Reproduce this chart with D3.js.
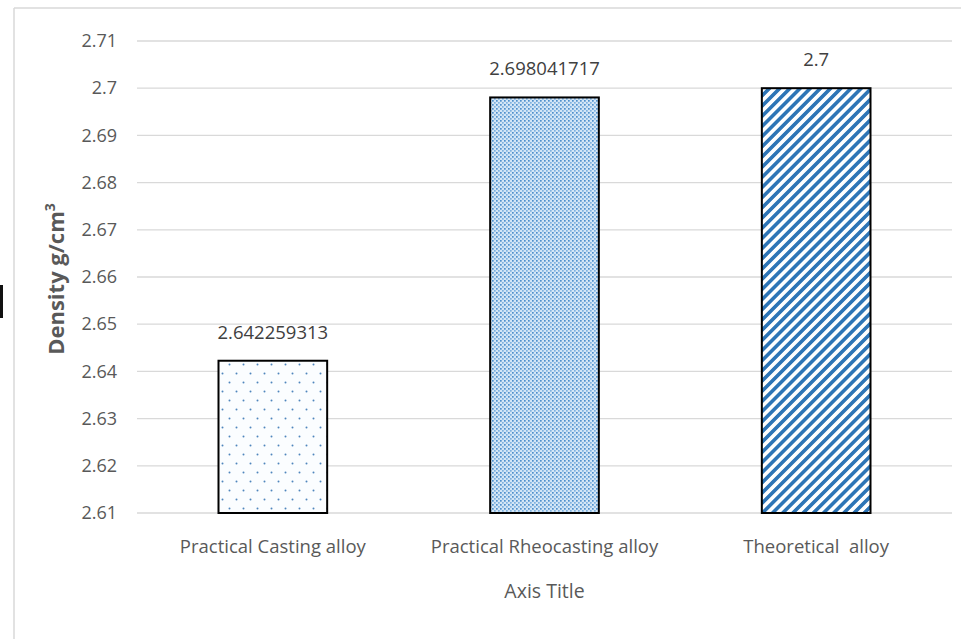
<!DOCTYPE html>
<html>
<head>
<meta charset="utf-8">
<script src="https://cdn.jsdelivr.net/npm/d3@7"></script>
<style>
  body { margin: 0; background: #fff; }
  svg { display: block; font-family: "Open Sans", sans-serif; }
  text { white-space: pre; }
</style>
</head>
<body>
<svg id="chart" width="961" height="639"></svg>
<script>
const categories = ["Practical Casting alloy", "Practical Rheocasting alloy", "Theoretical  alloy"];
const values = [2.642259313, 2.698041717, 2.7];
const valueLabels = ["2.642259313", "2.698041717", "2.7"];
const yTicks = [2.61, 2.62, 2.63, 2.64, 2.65, 2.66, 2.67, 2.68, 2.69, 2.7, 2.71];
const patterns = ["dotsSparse", "dotsDense", "stripes"];

const svg = d3.select("#chart");
const W = 961, H = 639;
const m = { left: 137, right: 9, top: 41, bottom: 126 };
const FONT = '"Open Sans", sans-serif';

// chart frame
svg.append("line").attr("x1", 14).attr("x2", 14).attr("y1", 8).attr("y2", H).attr("stroke", "#d9d9d9").attr("stroke-width", 1.5);
svg.append("line").attr("x1", 14).attr("x2", W).attr("y1", 8).attr("y2", 8).attr("stroke", "#d9d9d9").attr("stroke-width", 1.5);
svg.append("rect").attr("x", 0).attr("y", 285).attr("width", 3).attr("height", 33).attr("fill", "#111");

const defs = svg.append("defs");
// sparse dots
const p1 = defs.append("pattern").attr("id", "dotsSparse").attr("patternUnits", "userSpaceOnUse")
  .attr("width", 14).attr("height", 18).attr("x", 2).attr("y", 0);
p1.append("rect").attr("width", 14).attr("height", 18).attr("fill", "#fbfdff");
p1.append("circle").attr("cx", 3.5).attr("cy", 4.5).attr("r", 1).attr("fill", "#4f86bd");
p1.append("circle").attr("cx", 10.5).attr("cy", 13.5).attr("r", 1).attr("fill", "#4f86bd");
// dense dots
const p2 = defs.append("pattern").attr("id", "dotsDense").attr("patternUnits", "userSpaceOnUse")
  .attr("width", 4).attr("height", 4);
p2.append("rect").attr("width", 4).attr("height", 4).attr("fill", "#d4e6f6");
p2.append("rect").attr("x", 0).attr("y", 0).attr("width", 1.7).attr("height", 1.7).attr("fill", "#4f90cc");
p2.append("rect").attr("x", 2).attr("y", 2).attr("width", 1.7).attr("height", 1.7).attr("fill", "#7fb1df");
// diagonal stripes
const p3 = defs.append("pattern").attr("id", "stripes").attr("patternUnits", "userSpaceOnUse")
  .attr("width", 7.2).attr("height", 7.2).attr("patternTransform", "rotate(45)");
p3.append("rect").attr("width", 7.2).attr("height", 7.2).attr("fill", "#ffffff");
p3.append("rect").attr("x", 0).attr("y", 0).attr("width", 3.6).attr("height", 7.2).attr("fill", "#2e75b6");

const x = d3.scaleBand().domain(categories).range([m.left, W - m.right]).paddingInner(0.6).paddingOuter(0.3);
const y = d3.scaleLinear().domain([2.61, 2.71]).range([H - m.bottom, m.top]);

// gridlines
svg.append("g").selectAll("line").data(yTicks).join("line")
  .attr("x1", m.left).attr("x2", W - m.right)
  .attr("y1", d => y(d)).attr("y2", d => y(d))
  .attr("stroke", "#d9d9d9").attr("stroke-width", 1.3);

// y axis
const yAxis = svg.append("g").attr("transform", `translate(${m.left - 14},0)`)
  .call(d3.axisLeft(y).tickValues(yTicks).tickSize(0).tickPadding(6).tickFormat(d3.format("")));
yAxis.select(".domain").remove();
yAxis.selectAll("text").attr("font-size", 18).attr("fill", "#595959").style("font-family", FONT);

// bars
svg.append("g").selectAll("rect").data(values).join("rect")
  .attr("x", (d, i) => x(categories[i]))
  .attr("width", x.bandwidth())
  .attr("y", d => y(d))
  .attr("height", d => y(2.61) - y(d))
  .attr("fill", (d, i) => `url(#${patterns[i]})`)
  .attr("stroke", "#000").attr("stroke-width", 2);

// data labels
svg.append("g").selectAll("text").data(values).join("text")
  .attr("x", (d, i) => x(categories[i]) + x.bandwidth() / 2)
  .attr("y", d => y(d) - 22)
  .attr("text-anchor", "middle").attr("font-size", 18.5).attr("fill", "#404040")
  .text((d, i) => valueLabels[i]);

// x axis
const xAxis = svg.append("g").attr("transform", `translate(0,${H - m.bottom})`)
  .call(d3.axisBottom(x).tickSize(0).tickPadding(27));
xAxis.select(".domain").remove();
xAxis.selectAll("text").attr("font-size", 18.5).attr("fill", "#595959").style("font-family", FONT)
  .style("white-space", "pre");

// axis titles
svg.append("text").attr("x", (m.left + W - m.right) / 2).attr("y", 598)
  .attr("text-anchor", "middle").attr("font-size", 19.5).attr("fill", "#595959").text("Axis Title");

const yt = svg.append("text").attr("transform", "translate(64,279) rotate(-90)")
  .attr("text-anchor", "middle").attr("font-size", 22).attr("font-weight", "bold").attr("fill", "#595959")
  .style("font-family", FONT);
yt.append("tspan").text("Density g/cm");
yt.append("tspan").attr("font-size", 14).attr("dy", -9).text("3");
</script>
</body>
</html>
